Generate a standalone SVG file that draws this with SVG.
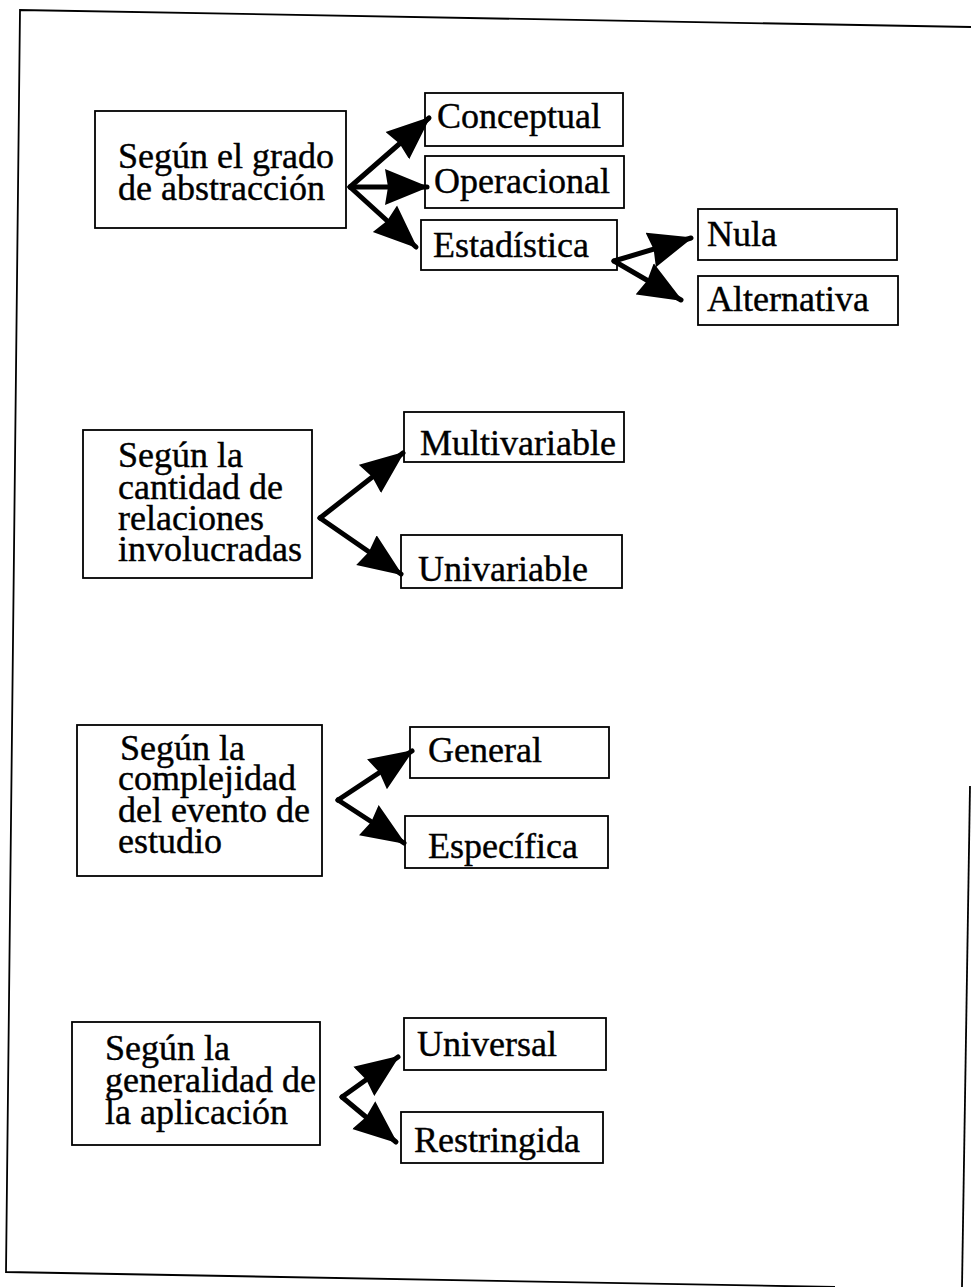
<svg xmlns="http://www.w3.org/2000/svg" width="971" height="1287" viewBox="0 0 971 1287">
<style>
.box{fill:#fff;stroke:#000;stroke-width:1.8}
.t{font-family:"Liberation Serif","Times New Roman",serif;font-size:36px;fill:#000;stroke:#000;stroke-width:0.4}
.c{stroke:#000;stroke-width:5;fill:none;stroke-linecap:round}
.frame{stroke:#000;stroke-width:1.8;fill:none}
</style>
<defs>
<marker id="ah" markerUnits="userSpaceOnUse" markerWidth="44" markerHeight="38" viewBox="0 0 44 38" refX="42" refY="19" orient="auto">
<path d="M0,1 L44,19 L0,37 L3,19 Z" fill="#000"/>
</marker>
</defs>
<rect width="971" height="1287" fill="#fff"/>
<g id="frame">
<polyline class="frame" points="971,27 20,10 6,1272 835,1287"/>
<line class="frame" x1="970" y1="786" x2="962" y2="1287"/>
</g>
<g id="n1"><rect class="box" x="95" y="111" width="251" height="117"/><text class="t" x="118" y="168">Según el grado</text><text class="t" x="118" y="200">de abstracción</text></g>
<g id="n1a"><rect class="box" x="425" y="93" width="198" height="53"/><text class="t" x="437" y="128">Conceptual</text></g>
<g id="n1b"><rect class="box" x="425" y="156" width="199" height="52"/><text class="t" x="434" y="193">Operacional</text></g>
<g id="n1c"><rect class="box" x="421" y="220" width="196" height="50"/><text class="t" x="433" y="257">Estadística</text></g>
<g id="n1c1"><rect class="box" x="698" y="209" width="199" height="51"/><text class="t" x="707" y="246">Nula</text></g>
<g id="n1c2"><rect class="box" x="698" y="276" width="200" height="49"/><text class="t" x="707" y="311">Alternativa</text></g>
<g id="n2"><rect class="box" x="83" y="430" width="229" height="148"/><text class="t" x="118" y="467">Según la</text><text class="t" x="118" y="499">cantidad de</text><text class="t" x="118" y="530">relaciones</text><text class="t" x="118" y="561">involucradas</text></g>
<g id="n2a"><rect class="box" x="404" y="412" width="220" height="50"/><text class="t" x="420" y="455">Multivariable</text></g>
<g id="n2b"><rect class="box" x="401" y="535" width="221" height="53"/><text class="t" x="418" y="581">Univariable</text></g>
<g id="n3"><rect class="box" x="77" y="725" width="245" height="151"/><text class="t" x="120" y="760">Según la</text><text class="t" x="118" y="790">complejidad</text><text class="t" x="118" y="822">del evento de</text><text class="t" x="118" y="853">estudio</text></g>
<g id="n3a"><rect class="box" x="410" y="727" width="199" height="51"/><text class="t" x="428" y="762">General</text></g>
<g id="n3b"><rect class="box" x="405" y="816" width="203" height="52"/><text class="t" x="428" y="858">Específica</text></g>
<g id="n4"><rect class="box" x="72" y="1022" width="248" height="123"/><text class="t" x="105" y="1060">Según la</text><text class="t" x="105" y="1092">generalidad de</text><text class="t" x="105" y="1124">la aplicación</text></g>
<g id="n4a"><rect class="box" x="404" y="1018" width="202" height="52"/><text class="t" x="417" y="1056">Universal</text></g>
<g id="n4b"><rect class="box" x="401" y="1112" width="202" height="51"/><text class="t" x="414" y="1152">Restringida</text></g>
<g id="connectors">
<line class="c" x1="350" y1="187" x2="429" y2="118" marker-end="url(#ah)"/>
<line class="c" x1="350" y1="187" x2="427" y2="187" marker-end="url(#ah)"/>
<line class="c" x1="350" y1="187" x2="416" y2="247" marker-end="url(#ah)"/>
<line class="c" x1="614" y1="261" x2="691" y2="238" marker-end="url(#ah)"/>
<line class="c" x1="614" y1="261" x2="681" y2="300" marker-end="url(#ah)"/>
<line class="c" x1="320" y1="518" x2="403" y2="453" marker-end="url(#ah)"/>
<line class="c" x1="320" y1="518" x2="401" y2="574" marker-end="url(#ah)"/>
<line class="c" x1="338" y1="800" x2="412" y2="751" marker-end="url(#ah)"/>
<line class="c" x1="338" y1="800" x2="404" y2="843" marker-end="url(#ah)"/>
<line class="c" x1="342" y1="1097" x2="398" y2="1057" marker-end="url(#ah)"/>
<line class="c" x1="342" y1="1097" x2="396" y2="1142" marker-end="url(#ah)"/>
</g>
</svg>
